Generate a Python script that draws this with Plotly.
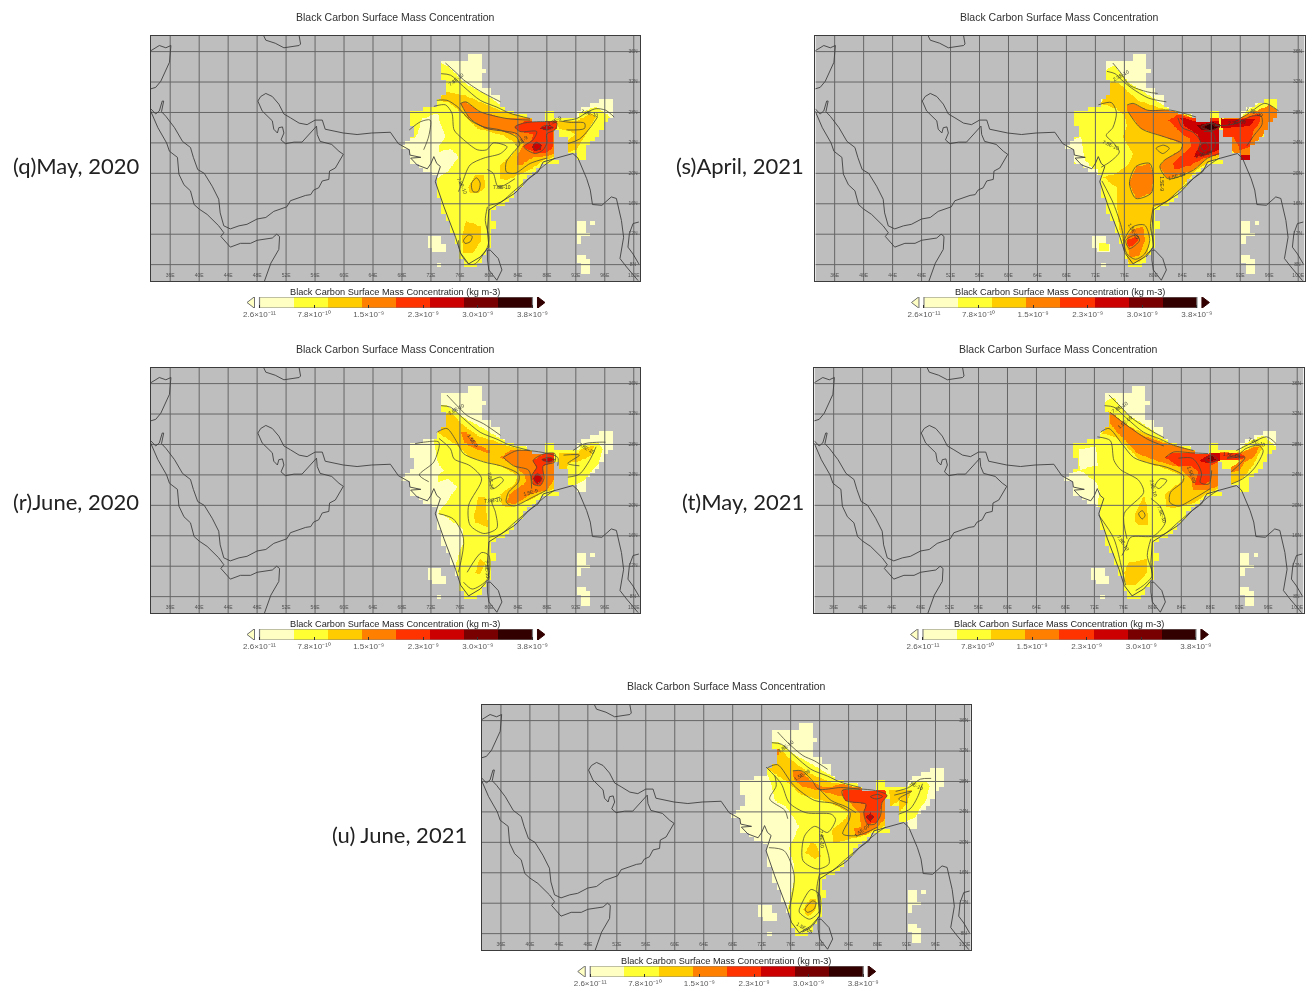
import numpy as np
import plotly.graph_objects as go

# ---------- shared data ----------
TITLE = "Black Carbon Surface Mass Concentration"
CB_TITLE = "Black Carbon Surface Mass Concentration (kg m-3)"
CLASS_COLORS = ["#FFFFC4", "#FFFF33", "#FFCC00", "#FF8000", "#FF3300", "#CC0000", "#780000", "#330000"]
CB_TICKS = ["2.6×10⁻¹¹", "7.8×10⁻¹⁰", "1.5×10⁻⁹", "2.3×10⁻⁹", "3.0×10⁻⁹", "3.8×10⁻⁹"]
LON_TICKS = list(range(36, 104, 4))
LAT_TICKS = list(range(8, 40, 4))
LON_RANGE = [33.34, 100.87]
LAT_RANGE = [5.85, 38.05]

# coastlines (lon, lat)
coast_arabia_india = [(33.3,28.5),(34.0,27.8),(34.5,28.2),(34.9,29.5),(35.1,29.5),(34.8,28.1),(35.4,27.5),(36.6,26.0),(37.7,24.2),(38.8,23.4),(39.2,22.1),(39.8,20.5),(40.7,20.0),(41.8,18.3),(42.7,16.6),(42.9,14.8),(43.4,13.1),(44.3,12.7),(45.5,13.1),(46.6,13.3),(48.0,14.0),(49.2,14.2),(50.3,15.0),(52.1,15.6),(52.6,16.4),(54.7,17.1),(55.4,17.2),(55.8,17.8),(56.5,18.1),(57.0,19.0),(57.9,19.2),(58.0,20.3),(58.8,20.7),(59.9,22.5),(59.3,22.9),(58.3,23.8),(56.7,24.2),(56.3,25.1),(56.2,26.2),(54.2,24.1),(53.1,24.1),(51.9,23.9),(51.3,24.4),(51.7,25.3),(51.5,26.1),(51.0,26.0),(50.8,25.3),(50.3,25.8),(50.1,26.9),(48.7,28.2),(48.1,29.5),(48.5,30.1),(49.2,30.5),(50.1,30.1),(51.0,29.1),(51.7,27.8),(52.6,27.3),(53.8,26.6),(54.9,26.4),(56.0,27.0),(57.0,27.0),(57.4,25.8),(59.9,25.3),(61.8,25.1),(63.8,25.3),(66.4,25.4),(67.5,23.9),(69.0,23.1),(69.1,22.4),(70.6,22.1),(69.2,22.0),(70.1,21.1),(71.5,20.6),(72.0,21.3),(72.4,22.2),(72.8,21.3),(73.3,20.9),(72.9,19.8),(72.6,18.9),(73.8,15.6),(75.4,11.6),(76.1,9.5),(77.2,8.1),(78.8,9.0),(80.0,10.3),(79.8,12.5),(80.0,15.2),(83.6,17.4),(85.5,19.3),(86.8,20.2),(87.5,21.5),(89.3,22.0),(90.9,22.4),(91.6,22.6),(92.3,22.0),(93.5,19.3),(94.0,17.8),(94.3,15.9),(95.6,15.8),(96.9,16.9),(97.6,16.7),(98.3,13.8),(98.6,11.6),(98.1,8.8),(99.0,7.7),(100.6,5.9)]
coast_levant = [(33.3,36.1),(34.5,36.8),(35.4,36.5),(36.1,36.8),(35.9,34.6),(34.7,32.1),(34.0,31.3),(33.3,31.1)]
coast_africa = [(33.3,28.2),(34.3,26.0),(35.5,24.0),(35.9,22.9),(37.0,22.1),(37.2,19.9),(37.9,18.5),(38.8,17.7),(39.3,15.9),(40.0,15.3),(41.1,14.6),(42.7,13.1),(43.4,12.2),(43.0,11.7),(44.3,10.3),(45.7,10.8),(47.1,10.8),(48.0,11.2),(50.1,11.5),(50.7,12.0),(51.1,11.7),(51.0,10.0),(49.9,8.2),(49.0,5.8)]
coast_caspian = [(48.9,38.1),(49.2,37.5),(50.5,37.1),(51.7,36.5),(53.8,36.8),(54.0,37.0),(53.8,38.1)]
coast_srilanka = [(79.8,9.9),(79.8,8.6),(80.0,7.3),(81.1,5.95),(81.8,7.3),(81.3,8.8),(80.2,9.9),(79.8,9.9)]
coast_thailand = [(100.7,13.6),(99.9,13.4),(99.4,12.1),(99.2,10.3),(99.9,9.4),(100.7,8.1)]
COASTS = [coast_arabia_india, coast_levant, coast_africa, coast_caspian, coast_srilanka, coast_thailand]

# data-mask outline (cells on the 0.625 x 0.5 degree grid)
mask_mainland = [(73.4,34.6),(77.0,34.6),(77.2,35.7),(78.9,35.7),(79.1,34.5),(79.4,33.6),(79.3,31.5),(80.3,31.3),(80.4,30.5),(81.6,30.3),(81.6,29.0),(82.9,28.1),(85.7,27.4),(85.9,26.9),(87.7,26.9),(87.7,28.3),(89.0,28.2),(89.0,27.2),(92.1,27.1),(92.3,28.3),(95.3,29.6),(97.1,29.6),(97.4,27.2),(96.0,26.8),(95.3,24.8),(93.5,23.5),(93.2,21.8),(92.1,21.8),(92.0,22.8),(90.9,22.8),(90.7,24.7),(89.7,24.7),(89.7,25.9),(89.0,25.9),(89.0,22.2),(89.7,21.4),(87.5,21.3),(86.6,20.2),(85.5,19.6),(83.6,17.4),(81.8,15.8),(80.3,15.2),(80.1,13.8),(80.9,13.8),(80.9,12.7),(80.2,12.7),(80.0,10.3),(79.0,8.6),(78.1,7.9),(76.8,7.9),(76.1,8.8),(75.2,12.1),(73.4,15.6),(72.9,17.4),(72.4,20.3),(71.5,20.3),(70.1,21.1),(69.1,21.3),(69.0,23.1),(67.9,23.5),(67.9,23.8),(68.8,24.4),(69.7,24.7),(69.7,26.3),(69.1,26.3),(69.1,27.9),(69.7,28.3),(72.4,28.8),(72.9,29.6),(74.0,30.7),(74.0,31.8),(73.4,33.4)]
mask_laccadive = [(71.6,11.7),(73.3,11.7),(73.3,10.8),(74.0,10.8),(74.0,9.8),(72.4,9.8),(72.4,10.3),(71.6,10.3)]
mask_laccadive2 = [(72.8,8.4),(73.4,8.4),(73.4,7.8),(72.8,7.8)]
mask_andaman = [(92.1,13.8),(93.4,13.8),(93.4,12.3),(93.9,12.3),(93.9,11.9),(93.1,11.9),(93.1,11.0),(92.1,11.0)]
mask_andaman2 = [(93.9,13.8),(94.6,13.8),(94.6,13.2),(93.9,13.2)]
mask_nicobar = [(92.1,9.4),(93.5,9.4),(93.5,8.6),(94.0,8.6),(94.0,6.6),(92.9,6.6),(92.9,8.1),(92.1,8.1)]
MASKS = [mask_mainland, mask_laccadive, mask_laccadive2, mask_andaman, mask_andaman2, mask_nicobar]

EAST_COAST = [(80.0,15.8),(81.6,16.2),(83.6,17.8),(86.1,19.8),(88.0,21.3),(89.1,22.0)]
NORTH_2 = [(73.4,33.1),(74.7,32.9),(76.5,31.4),(78.8,29.6),(81.1,28.7),(82.9,27.9),(85.7,27.2)]

# ---------- (q) May 2020 ----------
q_regions = [
 (1,[(73.4,34.5),(74.5,34.0),(76.5,32.0),(79.3,30.5),(82.0,28.8),(86.1,27.7),(88.0,28.5),(89.1,28.5),(89.3,27.2),(92.3,27.2),(92.5,27.9),(94.8,28.8),(96.1,27.9),(97.4,27.0),(98,24.8),(93.9,20.9),(89.8,20.9),(81.6,14.3),(81.1,9.9),(78.4,6.8),(75.6,6.8),(72.4,15.2),(72.4,19.3),(72.8,19.3),(74.5,20.4),(75.8,22.2),(74.7,23.3),(73.1,22.8),(73.1,23.5),(74.0,24.8),(72.9,27.9),(70.8,27.2),(70.1,25.2),(69.7,24.6),(68.5,24.6),(68.5,28.5),(72.4,29.2),(73.3,30.9)]),
 (2,[(73.1,29.7),(74.0,30.7),(76.5,30.3),(81.6,28.3),(85.9,27.2),(87.7,26.9),(89.1,26.9),(89.1,22.2),(87.5,21.7),(85.9,20.6),(82.5,19.1),(81.6,19.3),(81.6,21.1),(83.6,22.8),(84.1,23.7),(82.0,25.0),(78.4,25.9),(76.1,28.1),(74.7,29.2)]),
 (2,[(77.2,18.2),(78.1,19.8),(79.3,19.8),(79.5,18.2),(78.6,17.4),(77.4,17.4)]),
 (2,[(76.8,13.8),(79.0,13.0),(79.0,11.2),(77.7,9.5),(76.5,9.5),(76.3,11.6)]),
 (2,[(89.3,26.9),(92.1,26.9),(94.2,27.9),(94.8,27.4),(93.5,25.2),(92.1,23.1),(90.9,22.8),(90.9,24.4),(92.1,25.2),(90.7,25.7),(89.7,25.9)]),
 (3,[(76.1,29.2),(76.8,29.4),(78.8,28.1),(82.5,27.2),(85.5,27.2),(87.7,26.8),(89.1,26.8),(89.1,22.6),(87.5,22.2),(86.1,22.1),(84.5,21.1),(83.9,21.1),(83.9,22.2),(84.8,23.9),(83.6,25.2),(79.3,25.9),(77.2,27.4)]),
 (4,[(83.6,26.1),(84.8,26.8),(87.7,26.8),(89.4,26.8),(89.4,25.9),(89.0,25.7),(89.0,23.5),(88.0,22.8),(86.6,22.6),(84.8,23.5),(85.9,24.4),(86.1,25.2),(84.3,25.5)]),
 (5,[(85.9,23.5),(86.6,24.2),(87.3,23.7),(87.1,23.1),(86.4,22.9)]),
 (5,[(87.1,25.9),(88.0,26.3),(88.9,26.0),(88.0,25.7)]),
]
q_contours = [
 [(74.0,34.5),(75.4,33.3),(76.5,32.3),(78.8,30.8),(81.6,29.4)], NORTH_2,
 [(72.8,29.6),(74.2,29.6),(75.6,28.8),(77.4,27.0),(79.3,26.1),(81.6,25.7),(83.9,24.7),(84.2,23.7),(83.4,22.8),(82.4,21.5),(82.4,20.2),(83.6,20.0),(85.7,21.3),(88.0,22.0)],
 [(76.1,29.2),(76.8,29.4),(78.8,28.1),(82.5,27.2),(85.7,27.0)],
 [(76.1,29.2),(77.4,27.2),(79.7,25.9),(83.9,25.2),(84.8,24.0)],
 [(72.4,28.8),(74.0,29.0),(74.9,27.9),(75.2,25.7),(76.3,24.6),(78.4,23.1),(79.7,23.1),(80.6,24.0),(82.5,23.5),(81.6,22.6),(79.3,22.0),(77.4,21.1),(76.3,18.7),(75.8,17.6)],
 [(69,25.7),(70.6,26.8),(71.9,27),(71.7,24.9),(71,23.1)],
 [(77.6,18.7),(78.3,19.4),(78.8,18.7),(78.5,17.6),(77.8,17.6),(77.6,18.7)],
 [(79.8,20.5),(80.6,20.0),(81.3,18.2),(83.6,19.3)], EAST_COAST,
 [(79.8,15.6),(79.5,13.8),(80.0,11.6),(79.8,10.3),(78.1,8.1),(77.2,8.1),(76.1,9.5),(75.8,11.2)],
 [(76.5,11.2),(77.2,11.9),(77.7,11.7),(77.4,11.0),(76.7,10.8),(76.5,11.2)],
 [(83.6,26.1),(84.8,26.6),(87.1,26.8),(89.4,26.6),(89.1,25.7),(88.0,25.2),(88.0,24.0),(87.5,23.1),(86.4,22.6),(84.8,23.5),(86.1,24.4),(86.6,25.5),(84.3,25.5),(83.6,26.1)],
 [(90.3,26.9),(92.1,27.2),(93.7,28.1),(94.8,28.5),(96.1,28.3),(97.3,27.4)],
 [(90.7,25.7),(93.2,25.9),(93.2,26.6),(91.2,26.7),(89.7,26.9)],
 [(90.9,23.9),(92.5,24.5),(93.9,25.9),(95.0,27.4)],
 [(86.1,23.5),(86.6,24.1),(87.2,23.5),(86.6,23.0),(86.1,23.5)],
 [(87.2,26),(88,26.3),(88.9,26),(88,25.7),(87.2,26)],
]
q_labels = [(75.5,32.4,38,"7.8E-10"),(84.5,24.2,40,"1.5E-9"),(93.9,27.9,-15,"7.8E-10"),(81.8,18.2,0,"7.8E-10"),(76.4,18.4,-65,"7.8E-10"),(89.0,26.9,30,"2.3E-9")]

# ---------- (r) June 2020 ----------
r_regions = [
 (1,[(73.4,33.1),(74.2,33.1),(76.5,31.6),(79.3,30.1),(81.6,28.8),(86.1,27.4),(88.0,28.4),(89.1,28.4),(89.3,27.2),(92.3,27.2),(92.8,27.9),(95.1,28.3),(95.8,27.4),(95.3,25.7),(94.2,24.4),(93.2,23.3),(92.1,22.8),(90.9,22.6),(89.8,21.1),(86.1,19.5),(81.6,15.2),(81.1,9.9),(78.4,6.8),(76.1,6.8),(75.7,9.9),(75.4,12.3),(76.5,15.2),(76.5,16.9),(75.4,17.6),(73.8,18.7),(72.9,18.9),(74.0,20.2),(75.6,22.4),(74.5,23.5),(72.9,23.1),(73.0,23.9),(73.8,24.6),(72.9,25.7),(72.4,28.5),(73.3,30.5)]),
 (2,[(73.6,30.5),(74.0,32.0),(74.7,32.3),(76.5,30.5),(78.8,29.0),(81.1,28.4),(82.9,27.7),(85.5,27.2),(87.7,26.9),(89.1,26.9),(89.1,22.2),(87.5,21.7),(86.1,20.9),(82.9,19.8),(81.8,20.0),(81.6,21.5),(83.6,22.8),(84.1,23.9),(81.6,25.2),(77.4,26.3),(75.6,27.9),(72.9,29.6)]),
 (2,[(77.9,18.7),(78.6,21.1),(79.5,21.1),(80.0,17.1),(78.1,17.8)]),
 (2,[(78.1,11.2),(78.8,13.0),(79.5,12.5),(78.8,11.0)]),
 (2,[(89.7,26.9),(92.3,26.9),(92.8,27.4),(94.6,27.9),(94.2,26.6),(92.8,25.9),(91.0,25.5),(90.7,24.7),(89.7,24.7)]),
 (3,[(76.2,29.6),(77.0,29.6),(78.6,27.9),(80.2,27.2),(80.1,26.8),(77.5,27.7),(76.6,28.3)]),
 (3,[(81.6,26.3),(82.9,27.2),(85.5,27.2),(87.7,26.8),(89.1,26.8),(89.1,23.5),(88.0,22.0),(85.9,21.5),(83.6,20.2),(82.5,20.4),(82.9,21.5),(85.2,23.1),(85.0,23.9),(83.6,25.2)]),
 (4,[(86.1,25.9),(87.7,26.8),(89.1,26.8),(89.1,25.7),(87.5,25.2),(87.6,23.5),(87.1,22.6),(86.1,22.8),(85.9,23.9),(86.6,25.0)]),
 (5,[(86.2,23.5),(86.7,24.2),(87.3,23.5),(86.7,22.8)]),
 (5,[(87.3,26.0),(88.4,26.3),(89.1,26.0),(88.2,25.7)]),
]
r_contours = [
 [(74.2,34.5),(75.6,33.1),(77.0,31.8),(79.3,30.7),(81.6,29.2)], NORTH_2,
 [(72.8,29.6),(74.2,30.1),(75.6,28.3),(76.5,26.8),(79.3,25.7),(81.6,25.2),(84.1,24.1),(84.1,23.1),(82.7,21.7),(82.4,20.4),(83.4,19.9),(86.1,21.1),(88.0,22.0)],
 [(73.1,28.8),(74.7,27.4),(75.2,26.1),(77.4,25.2),(79.0,23.5),(77.2,20.0),(77.4,17.4),(79.3,16.3),(81.1,17.0),(80.9,19.1),(80.4,20.6),(81.6,21.1)],
 [(69.8,28.1),(71.0,28.3),(73.1,28.3),(72.4,25.7),(70.4,24.0),(71.7,23.1)],
 [(80.2,23.1),(81.6,23.7),(82.0,23.3),(80.6,22.2),(80.2,23.1)],
 [(73.1,18.9),(75.1,18.2),(76.5,15.6),(75.8,11.2)],
 [(77.0,11.2),(79.0,13.8),(80.0,13.4),(79.8,10.3),(77.7,9.0),(76.5,9.9)], EAST_COAST,
 [(82.0,26.3),(83.9,27.2),(87.7,26.9),(89.5,26.3),(89.5,25.2)],
 [(82.0,26.3),(83.4,25.2),(85.5,24.6),(85.9,22.2)],
 [(86.1,25.9),(87.7,26.8),(89.1,26.8),(89.1,25.7),(87.5,25.2),(87.6,23.5),(87.1,22.6),(86.1,22.8),(85.9,23.9),(86.6,25.0),(86.1,25.9)],
 [(91.6,27.2),(93.2,28.1),(95.3,28.3),(96.1,28.3)],
 [(90.9,23.7),(92.5,24.1),(93.9,25.9),(94.8,27.7)],
 [(90.3,26.6),(92.5,26.6),(90.9,25.5),(92.5,25.2)],
 [(86.2,23.5),(86.7,24.2),(87.3,23.5),(86.7,22.8),(86.2,23.5)],
 [(87.3,26.0),(88.4,26.3),(89.1,26.0),(88.2,25.7),(87.3,26.0)],
]
r_labels = [(75.5,32.7,30,"7.8E-10"),(77.8,28.4,-55,"1.5E-9"),(80.3,23.2,-80,"7.8E-10"),(80.5,20.7,5,"7.8E-10"),(85.8,21.8,15,"1.5E-9"),(93.5,27.5,-30,"7.8E-10"),(79.8,11.5,-85,"7.8E-10")]

# ---------- (s) April 2021 ----------
s_regions = [
 (1,[(73.4,33.6),(74.7,34.2),(76.5,32.0),(78.8,30.7),(81.6,28.8),(86.1,27.4),(88.0,28.4),(89.1,28.4),(89.3,27.2),(92.1,27.2),(92.8,28.1),(95.3,29.8),(97.5,29.8),(97.8,27.2),(98.1,23.1),(93.5,21.1),(89.8,21.1),(86.1,19.5),(81.6,15.2),(81.1,9.9),(78.4,6.8),(75.6,6.8),(72.4,15.2),(72.4,20.5),(67.5,20.5),(67.5,29),(72.9,29.5),(73.3,31)]),
 (0,[(67.8,24.2),(70.1,24.8),(70.3,23.1),(70.6,21.7),(72.0,20.4),(70.0,20.9),(67.8,22.2)]),
 (1,[(72.6,10.8),(74,10.8),(74,9.8),(72.6,9.8)]),
 (2,[(72.8,29.2),(73.7,30.9),(74.2,32.0),(75.3,31.8),(77.9,29.6),(82.0,28.3),(85.9,27.2),(89.1,27.2),(89.1,22.2),(87.5,21.3),(86.1,20.6),(83.6,17.8),(81.8,16.0),(80.0,15.6),(79.5,11.6),(79.3,9.5),(78.1,8.4),(76.8,8.1),(76.3,9.0),(75.3,13.0),(75.1,15.6),(74.9,18.2),(73.1,19.5),(74.9,20.0),(76.7,21.3),(77.2,22.6),(75.8,24.8),(76.3,26.3),(76.0,27.7),(74.9,28.5)]),
 (3,[(76.4,29.0),(77.2,29.2),(79.2,28.3),(82.4,28.3),(85.9,27.2),(89.1,27.2),(89.1,22.6),(87.5,22.0),(85.5,20.4),(82.0,19.3),(80.9,20.9),(81.5,21.7),(83.8,23.1),(84.0,23.9),(81.5,24.8),(78.3,25.9),(76.5,28.1)]),
 (3,[(77.6,20.9),(79.5,21.3),(80,19.5),(79.7,17.4),(77.6,16.7),(76.7,18.7)]),
 (3,[(76.3,11.6),(77.2,12.7),(78.6,13.0),(78.8,11.2),(78.1,9.2),(76.8,9.0)]),
 (4,[(76.3,11.2),(77.6,11.7),(78,11.2),(76.7,10.3)]),
 (3,[(89.8,27.2),(91.6,27.2),(93.5,27.9),(96.2,29),(97.6,27.9),(97.1,26.8),(95.3,25.2),(93.9,23.5),(93.5,21.7),(92.1,21.7),(90.9,23.1),(90.9,24.7),(89.7,24.7)]),
 (4,[(82.1,27.0),(83.4,27.7),(86.1,27.2),(89.1,27.2),(89.1,22.5),(87.0,22.0),(85.2,21.1),(82.9,20.5),(82.7,21.3),(85.2,23.5),(85.0,24.6),(84.0,25.2)]),
 (4,[(89.8,27.0),(92.3,27.2),(94.8,27.9),(94.8,26.8),(93.9,25.7),(93.4,23.5),(92.0,23.1),(91.1,24.8),(89.7,24.9)]),
 (5,[(83.6,27.4),(85.9,26.9),(89.1,26.9),(89.1,23.1),(87.1,22.4),(85.7,22.1),(85.9,22.8),(86.6,23.9),(86.1,25.2),(84.5,26.1)]),
 (5,[(89.5,27.2),(92.5,27.1),(94.1,27.2),(93.5,26.3),(90.0,25.9),(89.5,25.9)]),
 (5,[(92.2,22.4),(93.4,22.4),(93.4,21.7),(92.2,21.7)]),
 (6,[(86.1,26.3),(88.2,26.8),(89.4,26.3),(88.4,25.7),(86.6,25.7)]),
 (7,[(87.0,26.1),(88.0,26.5),(88.8,26.0),(87.9,25.7)]),
]
s_contours = [
 [(74.4,34.5),(75.6,33.1),(76.7,31.6),(79.2,30.7),(80.6,30.5)],
 [(73.6,33.4),(74.7,33.1),(75.6,32.3),(77.0,31.2),(79.3,29.9),(81.8,29.4)],
 [(76.4,29.0),(77.2,29.2),(79.2,28.3),(82.4,28.3),(85.9,27.4)],
 [(76.5,28.1),(78.3,25.9),(81.5,24.8),(84.0,23.9),(83.8,23.1),(81.5,21.7),(80.9,20.9),(82.0,19.3),(85.5,20.4),(87.5,22.0),(89.1,22.6)],
 [(72.4,29.0),(74.2,29.3),(74.9,28.0),(74.4,26.0),(73.5,25.0),(74.5,24.0),(75.3,22.8),(74.0,21.5),(72.8,20.8)],
 [(77.6,20.9),(79.5,21.3),(80,19.5),(79.7,17.4),(77.6,16.7),(76.7,18.7),(77.6,20.9)], EAST_COAST,
 [(76.3,9.5),(76.0,11.2),(77.2,13.0),(78.8,13.2),(79.5,11.2),(78.8,9.4),(77.5,8.7),(76.3,9.5)],
 [(76.2,11.2),(77.6,11.9),(78.1,11.2),(76.7,10.1),(76.2,11.2)],
 [(72.9,19.0),(74.5,16.0),(75.7,12.5),(76.0,9.8)],
 [(80.0,15.6),(79.6,13.0),(80.0,10.5),(79,9)],
 [(80.4,23.3),(81.4,23.7),(82.2,23.3),(81.3,22.6),(80.4,23.3)],
 [(83.4,27.3),(84,26),(85.5,25.4),(86.5,24.2),(86.2,23.0),(87.3,22.5),(88.5,23.5),(88.2,25.4),(87,25.5)],
 [(86.5,23.6),(87.2,24.0),(87.6,23.4),(87,22.9),(86.5,23.6)],
 [(91.4,26.9),(93.2,27.9),(95.4,29.2),(97.3,28.2)],
 [(92.9,23.6),(93.9,25),(95,26.4),(94.9,27.5),(93.5,27.5),(91.5,26.6),(90,26.3),(88.5,26.3)],
 [(86.6,26.1),(88,26.6),(89.2,26.1),(88,25.6),(86.6,26.1)],
]
s_labels = [(75.6,32.9,30,"2.3E-10"),(74.2,23.7,-25,"7.8E-10"),(81.2,18.7,-90,"1.5E-9"),(83.2,19.6,15,"1.5E-09"),(87.0,22.5,15,"2.3E-09"),(77.3,12.4,-60,"1.5E-09"),(91.5,26.8,5,"2.3E-09"),(94.0,28.1,-25,"1.5E-09")]

# ---------- (t) May 2021 ----------
t_regions = [
 (1,[(73.4,33.6),(74.7,34.2),(76.5,32.0),(78.8,30.7),(81.6,28.8),(86.1,27.4),(88.0,28.4),(89.1,28.4),(89.3,27.2),(92.1,27.2),(92.8,28.1),(95.3,29.2),(96.2,28.5),(97.6,27.2),(98.1,23.1),(93.5,21.1),(89.8,21.1),(86.1,19.5),(81.6,15.2),(81.1,9.9),(78.4,6.8),(75.6,6.8),(72.4,15.2),(72.4,20.5),(67.5,20.5),(67.5,29),(72.9,29.5),(73.3,31)]),
 (0,[(69.9,27.4),(72.2,27.7),(72.4,25.2),(71.0,25.0),(70.1,24.6),(69.9,25.7)]),
 (0,[(67.8,24.2),(70.1,24.6),(71.3,23.7),(72.2,23.1),(72.8,21.7),(72.4,20.2),(70.1,20.2),(67.8,22.2)]),
 (2,[(73.1,29.5),(73.6,30.7),(74.0,32.3),(76.5,30.5),(81.6,28.4),(85.9,27.2),(87.7,26.9),(89.1,26.9),(89.1,22.2),(87.5,21.5),(85.9,20.4),(82.9,19.6),(82.0,19.8),(81.8,21.5),(83.9,23.1),(84.6,23.7),(82.0,24.8),(78.4,25.9),(76.5,27.7),(74.9,29.0)]),
 (2,[(77.7,18.9),(78.8,21.3),(79.3,20.0),(79.5,17.4),(78.1,17.4),(77.5,18.2)]),
 (2,[(76.8,12.5),(79.3,13.0),(79.3,11.2),(77.7,9.5),(76.3,9.5),(76.1,11.2)]),
 (2,[(90.7,26.8),(92.8,27.2),(94.8,28.1),(95.3,27.7),(93.9,25.2),(92.5,23.5),(90.9,22.8),(90.9,24.6),(92.1,25.7)]),
 (3,[(74.2,32.3),(76.1,30.9),(78.4,29.3),(81.6,28.2),(85.7,27.2),(87.7,26.9),(89.1,26.9),(89.1,22.6),(87.8,22.0),(85.7,22.1),(85.5,23.1),(85.0,23.7),(83.9,25.0),(81.1,25.7),(78.0,26.8),(75.2,29.6),(74.2,30.7)]),
 (3,[(89.3,27.1),(92.1,26.9),(94.0,27.6),(94.8,27.6),(94.0,26.3),(92.8,25.7),(92.1,24.6),(90.9,24.4),(90.9,25.0),(92.3,25.9),(91.2,26.2),(89.4,25.9)]),
 (4,[(81.8,26.3),(82.9,27.0),(85.5,26.9),(87.7,26.8),(89.1,26.9),(89.1,25.7),(88.0,25.2),(88.2,23.5),(87.1,22.6),(85.9,22.8),(86.4,24.4),(85.5,25.2),(83.6,25.2)]),
 (4,[(89.3,26.9),(92.1,26.8),(93.0,26.5),(92.1,25.9),(89.4,25.9)]),
 (5,[(86.6,25.9),(88.2,26.9),(89.3,26.9),(89.3,25.9),(88.2,25.7),(87.5,25.5)]),
 (6,[(87.7,26.2),(88.3,26.5),(88.8,26.0),(88.2,25.8)]),
]
t_contours = [
 [(74.0,34.5),(75.6,33.0),(77.0,31.6),(79.3,30.1),(81.6,28.9)], NORTH_2,
 [(74.2,32.2),(76.5,30.5),(79.3,28.7),(81.6,27.8)],
 [(72.8,29.6),(74.0,30.1),(75.8,28.1),(77.4,26.3),(79.7,25.5),(82.0,25.0),(84.3,23.9),(84.2,23.1),(82.5,21.7),(82.4,20.4),(83.6,19.9),(86.1,21.1),(88.0,22.2)],
 [(72.4,29.0),(74.2,28.5),(74.7,25.9),(75.6,24.7),(78.1,23.3),(78.8,21.7),(76.1,18.9),(76.5,15.6)],
 [(79.8,20.9),(81.1,19.8),(81.8,17.8),(80.2,16.0),(77.0,15.8),(76.3,14.3),(75.8,13.4)],
 [(80.4,22.6),(81.1,23.5),(82.0,23.3),(80.9,22.2),(80.4,22.6)],
 [(78.1,18.9),(78.6,19.3),(79.0,18.7),(78.6,18.2),(78.1,18.9)],
 [(72.6,18.7),(74.7,15.6),(75.8,11.6),(76.3,9.5)],
 [(79.8,15.6),(79.3,13.4),(80.0,10.8),(78.8,9.5),(77.7,8.8)], EAST_COAST,
 [(83.6,26.2),(85.5,26.2),(86.4,25.2),(86.8,24.1),(86.6,23.0),(87.8,22.8),(88.2,24.6)],
 [(81.8,26.3),(82.9,27.0),(85.5,26.9),(87.7,26.8)],
 [(91.6,27.2),(93.5,28.1),(95.8,29.0),(97.1,28.1)],
 [(90.9,22.8),(92.5,23.5),(94.1,24.9),(95.3,27.2),(94.6,27.9),(92.8,27.4),(92.1,26.8),(90.3,26.2),(92.8,26.3),(90.9,24.4)],
 [(87.3,26),(88.3,26.6),(89,26),(88,25.6),(87.3,26)],
]
t_labels = [(75.5,32.9,30,"7.8E-10"),(76.2,31.0,40,"1.5E-09"),(85.5,24.0,-70,"1.5E-09"),(80.2,22.3,-75,"7.8E-10"),(81.3,18.8,-70,"7.8E-10"),(76.0,15.0,-55,"7.8E-10"),(91.0,26.6,-10,"1.5E-09"),(94.5,28.3,-20,"7.8E-10")]

# ---------- (u) June 2021 ----------
u_regions = [
 (1,[(73.4,33.1),(74.2,33.3),(76.5,31.6),(79.3,30.1),(81.6,28.8),(86.1,27.4),(88.0,28.4),(89.1,28.4),(89.3,27.2),(92.1,27.2),(93.0,27.9),(94.8,28.1),(95.3,27.4),(94.8,25.7),(93.9,24.4),(93.2,23.3),(92.1,22.8),(90.9,22.6),(89.8,21.1),(86.1,19.5),(81.6,15.2),(81.1,9.9),(78.4,6.8),(76.1,6.8),(75.7,9.9),(75.7,11.6),(76.5,15.2),(76.5,16.9),(75.8,19.3),(77.2,22.1),(76.1,23.7),(75.4,24.7),(73.8,25.5),(73.3,27.9),(72.9,28.8),(72.4,29.5),(73.1,30.5)]),
 (2,[(73.6,30.5),(74.0,32.2),(74.7,32.1),(76.5,30.5),(78.8,29.0),(81.6,27.9),(85.2,27.2),(87.7,26.9),(89.1,26.9),(89.1,22.2),(87.5,21.5),(86.1,20.9),(83.9,20.4),(82.0,19.9),(81.6,21.5),(83.6,23.1),(84.1,23.9),(81.6,25.2),(77.4,26.3),(75.6,27.9),(72.9,29.6)]),
 (2,[(78.1,18.7),(78.8,20.0),(79.5,19.8),(80.2,18.2),(79.3,17.8)]),
 (2,[(77.7,11.2),(78.8,12.7),(79.6,12.5),(79.5,11.2),(78.4,10.3)]),
 (2,[(89.6,26.9),(92.1,26.9),(92.8,26.8),(92.1,25.2),(91.2,24.1),(90.9,24.1),(90.9,25.2),(91.6,25.9),(89.7,24.7)]),
 (3,[(74.0,32.2),(74.4,32.2),(74.4,31.6),(74.0,31.4)]),
 (3,[(76.3,29.4),(77.5,29.4),(79.0,27.9),(80.9,27.2),(83.1,27.7),(85.5,27.2),(87.7,26.8),(89.1,26.8),(89.1,23.1),(88.0,22.0),(86.1,20.9),(85.0,20.9),(84.8,21.8),(85.7,22.1),(85.5,23.9),(83.6,25.9),(80.0,26.8),(77.5,27.4),(76.4,28.3)]),
 (4,[(83.1,26.8),(85.5,27.0),(87.7,26.8),(89.1,26.8),(89.3,26.0),(88.6,25.2),(88.4,23.5),(87.8,22.6),(86.6,22.4),(86.1,23.9),(86.4,25.0),(83.6,25.5)]),
 (5,[(86.4,23.3),(87.0,23.9),(87.6,23.3),(87.0,22.7)]),
]
u_contours = [
 [(74.2,34.5),(75.6,33.1),(77.7,31.4),(79.3,30.7),(81.1,29.6)], NORTH_2,
 [(72.8,29.8),(74.2,30.2),(76.4,27.5),(79.3,25.5),(82.0,25.1),(84.2,23.9),(84.1,23.0),(83.2,21.1),(85.2,20.9),(88.0,22.0)],
 [(76.3,29.4),(77.5,29.4),(79.0,28.1),(79.8,27.0),(82.9,27.2),(85.5,27.0)],
 [(79.8,27.2),(81.6,25.5),(83.6,24.7),(85,23.9)],
 [(72.6,29.9),(74.7,27.7),(75.8,25.2),(78.1,23.9),(81.6,23.7),(82.2,23.0),(81.1,21.3),(79.3,22.1),(77.9,20.8),(77.7,17.6),(79.7,16.5),(81.3,17.2),(80.6,20.3),(80.2,21.1)],
 [(73.8,28.8),(74.0,27.4),(73.1,25.7),(75.2,24.2),(75.6,23.1)],
 [(73.0,19.3),(75.1,18.9),(76.5,15.6),(75.8,11.2)],
 [(77.2,11.2),(78.8,13.8),(80.0,13.1),(80.0,11.0),(78.6,9.9),(77.2,10.8),(77.2,11.2)],
 [(78.0,11.2),(79.0,12.3),(79.5,12.1),(79.2,11.2),(78.3,10.8),(78.0,11.2)],
 [(80.0,15.9),(79.6,13.8),(80.1,10.8),(78.9,8.9),(77.6,8.2)], EAST_COAST,
 [(83.1,26.8),(85.5,27.0),(87.7,26.8),(89.3,26.2),(88.6,25.2),(88.4,23.5),(87.6,22.4),(86.6,22.4),(86.1,23.9),(86.4,25.0),(83.6,25.5),(83.1,26.8)],
 [(86.6,23.3),(87.0,23.7),(87.4,23.3),(87.0,22.9),(86.6,23.3)],
 [(87.0,26.0),(88,26.3),(88.7,26),(87.8,25.7),(87.0,26.0)],
 [(90.5,26.7),(92.3,27.2),(93.9,28.3),(95.4,28.4)],
 [(90.9,23.7),(92.5,24.4),(93.5,25.9),(94.2,27.7)],
 [(90.3,26.2),(92.7,26.7),(90.9,25.7),(92.1,25.2)],
]
u_labels = [(75.4,32.6,35,"7.8E-10"),(77.5,28.9,30,"1.5E-09"),(80.3,20.4,-85,"7.8E-10"),(85.9,21.6,40,"1.5E-09"),(78.0,8.8,-30,"1.5E-09"),(93.2,27.5,-25,"7.8E-10")]

# px position of each panel's plot area and its side caption
PANEL_W, PANEL_H = 491, 245
PANELS = [
 ("q", 148.5, 36, q_regions, q_contours, q_labels, "(q)May, 2020", 73, 165),
 ("s", 815.5, 36, s_regions, s_contours, s_labels, "(s)April, 2021", 740, 165),
 ("r", 148.5, 368, r_regions, r_contours, r_labels, "(r)June, 2020", 73, 502),
 ("t", 814.5, 368, t_regions, t_contours, t_labels, "(t)May, 2021", 743, 502),
 ("u", 480.5, 705, u_regions, u_contours, u_labels, "(u) June, 2021", 398, 834),
]

W, H = 1309, 988


def inside(px, py, poly):
    poly = np.asarray(poly, float)
    x0, y0 = poly[:, 0], poly[:, 1]
    x1, y1 = np.roll(x0, -1), np.roll(y0, -1)
    res = np.zeros(px.shape, bool)
    for a, b, c, d in zip(x0, y0, x1, y1):
        if b == d:
            continue
        crossing = ((b > py) != (d > py)) & (px < (c - a) * (py - b) / (d - b) + a)
        res ^= crossing
    return res


# fine raster of the class field, cut to the blocky model mask
lon_f = np.arange(66.5, 99.0, 0.125)
lat_f = np.arange(5.5, 37.0, 0.1)
LONF, LATF = np.meshgrid(lon_f, lat_f)
block_lon = np.round(LONF / 0.625) * 0.625
block_lat = np.round(LATF / 0.5) * 0.5
MASK = np.zeros(LONF.shape, bool)
for m in MASKS:
    MASK |= inside(block_lon, block_lat, m)


def field(regions):
    z = np.zeros(LONF.shape, float)
    for cls, poly in regions:
        z[inside(LONF, LATF, poly)] = cls
    z[~MASK] = np.nan
    return z


def polyline(lines):
    xs, ys = [], []
    for ln in lines:
        xs += [p[0] for p in ln] + [None]
        ys += [p[1] for p in ln] + [None]
    return xs, ys


scale = []
for i, c in enumerate(CLASS_COLORS):
    scale += [[i / 8, c], [(i + 1) / 8, c]]

fig = go.Figure()
layout = {}
annotations = []
shapes = []
n = 0
TXT = dict(family="Liberation Sans, Arial, sans-serif")

for name, px, py, regions, contours, labels, caption, cx, cy in PANELS:
    # map axes
    n += 1
    ax, ay = ("x%d" % n, "y%d" % n)
    common = dict(showgrid=False, zeroline=False, showticklabels=False, ticks="",
                  showline=True, mirror=True, linecolor="#3c3c3c", linewidth=1)
    layout["xaxis%d" % n] = dict(domain=[px / W, (px + PANEL_W) / W], range=LON_RANGE, anchor=ay, **common)
    layout["yaxis%d" % n] = dict(domain=[1 - (py + PANEL_H) / H, 1 - py / H], range=LAT_RANGE, anchor=ax, **common)
    shapes.append(dict(type="rect", xref=ax, yref=ay, x0=LON_RANGE[0], x1=LON_RANGE[1], y0=LAT_RANGE[0], y1=LAT_RANGE[1],
                       fillcolor="#BEBEBE", line=dict(width=0), layer="below"))
    fig.add_trace(go.Heatmap(x=lon_f, y=lat_f, z=field(regions), zmin=-0.5, zmax=7.5, colorscale=scale,
                             showscale=False, hoverinfo="skip", xaxis=ax, yaxis=ay))
    gx, gy = polyline([[(v, LAT_RANGE[0]), (v, LAT_RANGE[1])] for v in LON_TICKS] +
                      [[(LON_RANGE[0], v), (LON_RANGE[1], v)] for v in LAT_TICKS])
    fig.add_trace(go.Scatter(x=gx, y=gy, mode="lines", line=dict(color="#666666", width=1),
                             hoverinfo="skip", xaxis=ax, yaxis=ay))
    cxs, cys = polyline(contours)
    fig.add_trace(go.Scatter(x=cxs, y=cys, mode="lines", line=dict(color="#4a4a3a", width=0.8, shape="spline", smoothing=0.8),
                             hoverinfo="skip", connectgaps=False, xaxis=ax, yaxis=ay))
    kx, ky = polyline(COASTS)
    fig.add_trace(go.Scatter(x=kx, y=ky, mode="lines", line=dict(color="#404040", width=0.9),
                             hoverinfo="skip", xaxis=ax, yaxis=ay))
    fig.add_trace(go.Scatter(x=LON_TICKS, y=[6.6] * len(LON_TICKS), mode="text",
                             text=["%dE" % v for v in LON_TICKS], textposition="middle center",
                             textfont=dict(size=5, color="#505050", **TXT), hoverinfo="skip", xaxis=ax, yaxis=ay))
    fig.add_trace(go.Scatter(x=[99.9] * len(LAT_TICKS), y=LAT_TICKS, mode="text",
                             text=["%dN" % v for v in LAT_TICKS], textposition="middle center",
                             textfont=dict(size=5, color="#505050", **TXT), hoverinfo="skip", xaxis=ax, yaxis=ay))
    for lo, la, ang, txt in labels:
        annotations.append(dict(x=lo, y=la, xref=ax, yref=ay, text=txt, showarrow=False, textangle=-ang,
                                xanchor="center", yanchor="middle",
                                font=dict(size=5, color="#303030", **TXT)))

    # colour bar axes
    n += 1
    bx, by = ("x%d" % n, "y%d" % n)
    bar_x0, bar_x1, cell = px + 95, px + 397, 34.25
    lo_x = -0.5 - (px + 109 - bar_x0) / cell
    hi_x = 7.5 + (bar_x1 - (px + 383)) / cell
    layout["xaxis%d" % n] = dict(domain=[bar_x0 / W, bar_x1 / W], range=[lo_x, hi_x], anchor=by, showgrid=False,
                                 zeroline=False, showline=False, ticks="inside", ticklen=3, tickcolor="#333333", tickwidth=1,
                                 tickmode="array", tickvals=[-0.5 + i * 1.6 for i in range(6)], ticktext=CB_TICKS,
                                 tickfont=dict(size=8, color="#5a5a5a", **TXT), tickangle=0)
    layout["yaxis%d" % n] = dict(domain=[1 - (py + 272) / H, 1 - (py + 261) / H], range=[-0.5, 0.5], anchor=bx,
                                 showgrid=False, zeroline=False, showticklabels=False, ticks="", showline=False)
    fig.add_trace(go.Heatmap(x=list(range(8)), y=[0], z=[list(range(8))], zmin=-0.5, zmax=7.5, colorscale=scale,
                             showscale=False, hoverinfo="skip", xaxis=bx, yaxis=by))
    fig.add_trace(go.Scatter(x=[-0.5, 7.5, 7.5, -0.5, -0.5], y=[-0.5, -0.5, 0.5, 0.5, -0.5], mode="lines",
                             line=dict(color="#808080", width=1.2), hoverinfo="skip", xaxis=bx, yaxis=by))
    fig.add_trace(go.Scatter(x=[-0.72], y=[0], mode="markers", marker=dict(symbol="triangle-left", size=10, color=CLASS_COLORS[0],
                             line=dict(color="#707070", width=1)), hoverinfo="skip", xaxis=bx, yaxis=by))
    fig.add_trace(go.Scatter(x=[7.72], y=[0], mode="markers", marker=dict(symbol="triangle-right", size=10, color=CLASS_COLORS[-1],
                             line=dict(color=CLASS_COLORS[-1], width=1)), hoverinfo="skip", xaxis=bx, yaxis=by))

    # texts
    mid = (px + PANEL_W / 2) / W
    annotations.append(dict(x=mid, y=1 - (py - 19) / H, xref="paper", yref="paper", text=TITLE, showarrow=False,
                            xanchor="center", yanchor="middle", font=dict(size=10.5, color="#303030", **TXT)))
    annotations.append(dict(x=mid, y=1 - (py + 256) / H, xref="paper", yref="paper", text=CB_TITLE, showarrow=False,
                            xanchor="center", yanchor="middle", font=dict(size=9.2, color="#1e1e1e", **TXT)))
    annotations.append(dict(x=cx / W, y=1 - cy / H, xref="paper", yref="paper", text=caption, showarrow=False,
                            xanchor="center", yanchor="middle",
                            font=dict(size=22, color="#222222", family="Lato, Open Sans, sans-serif")))

fig.update_layout(width=W, height=H, margin=dict(l=0, r=0, t=0, b=0), autosize=False,
                  paper_bgcolor="white", plot_bgcolor="white", showlegend=False,
                  annotations=annotations, shapes=shapes, **layout)

fig.write_html("out.html", config={"displayModeBar": False},
               post_script="document.body.style.margin='0';document.body.style.overflow='hidden';"
               "document.querySelectorAll('.cartesianlayer').forEach(function(e){e.style.filter='blur(0.35px)';});")
